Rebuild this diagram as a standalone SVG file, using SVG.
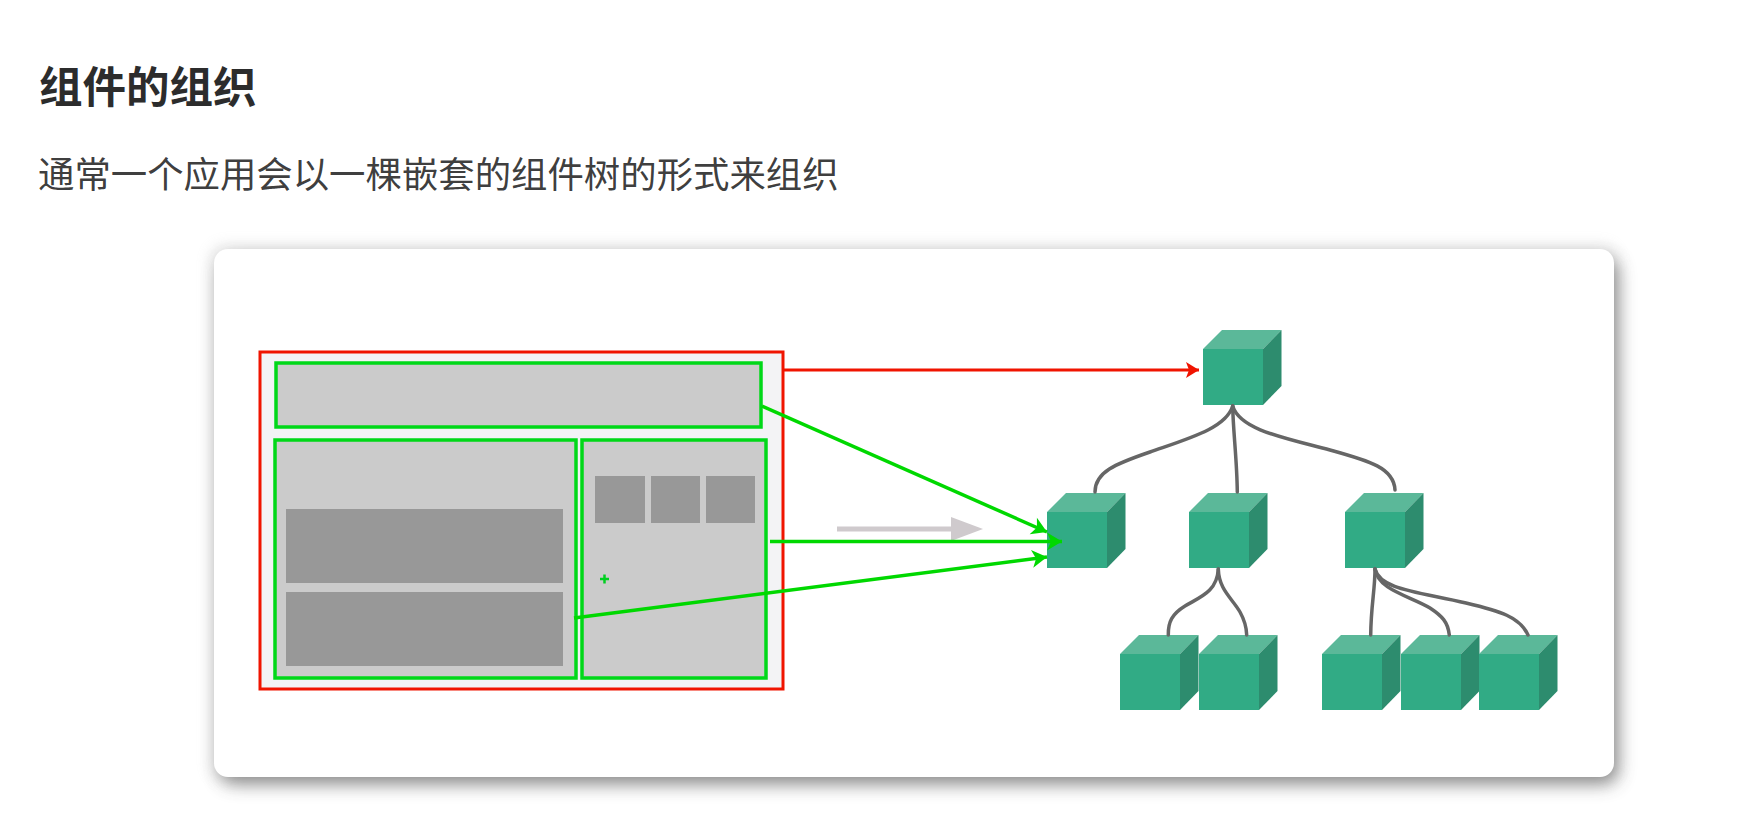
<svg xmlns="http://www.w3.org/2000/svg" width="1755" height="829" viewBox="0 0 1755 829">
<style>
.t{font-family:"Noto Sans CJK SC","Liberation Sans",sans-serif;fill:#2c2c2c}
.g{fill:#cbcbcb;stroke:#00d818;stroke-width:3.500}
.d{fill:#989898}
.f{fill:#31ab85}.u{fill:#5bb899}.s{fill:#2d8c6e}
.c{fill:none;stroke:#666;stroke-width:3.500;stroke-linecap:round}
.a{fill:none;stroke:#00d800;stroke-width:3.500}
</style>
<defs>
<filter id="sh" x="-5%" y="-8%" width="110%" height="116%"><feGaussianBlur stdDeviation="9"/></filter>
<filter id="sh2" x="-5%" y="-8%" width="110%" height="116%"><feGaussianBlur stdDeviation="7"/></filter>
<marker id="ag" markerUnits="userSpaceOnUse" markerWidth="20" markerHeight="20" refX="17" refY="10" orient="auto"><path d="M2 1L17 10L2 19L6 10Z" fill="#00d800"/></marker>
<marker id="ar" markerUnits="userSpaceOnUse" markerWidth="20" markerHeight="20" refX="16" refY="10" orient="auto"><path d="M3 2L16 10L3 18L6 10Z" fill="#f01400"/></marker>
<g id="cube"><path class="f" d="M0 0H60V56H0Z"/><path class="u" d="M0 0L19 -19H78.500L60 0Z"/><path class="s" d="M60 0L78.500 -19V37L60 56Z"/></g>
</defs>
<rect width="1755" height="829" fill="#fff"/>
<text class="t" x="39" y="102.500" font-size="43.500" font-weight="700">组件的组织</text>
<text class="t" x="38" y="188" font-size="36.400" fill-opacity=".92">通常一个应用会以一棵嵌套的组件树的形式来组织</text>
<rect x="209" y="244" width="1409" height="537" rx="16" fill="#999" opacity=".18" filter="url(#sh2)"/>
<rect x="220" y="258" width="1398" height="526" rx="14" fill="#444" opacity=".6" filter="url(#sh)"/>
<rect id="card" x="214" y="249" width="1400" height="528" rx="14" fill="#fff"/>
<g id="page">
<rect x="260" y="352" width="523" height="337" fill="#f3f3f5" stroke="#f01400" stroke-width="3"/>
</g>
<g id="header"><rect class="g" x="276" y="363" width="485" height="64"/></g>
<g id="main"><rect class="g" x="275" y="440" width="301" height="238"/>
<rect class="d" x="286" y="509" width="277" height="74"/><rect class="d" x="286" y="592" width="277" height="74"/></g>
<g id="aside"><rect class="g" x="582" y="440" width="184" height="238"/>
<rect class="d" x="595" y="476" width="50" height="47"/><rect class="d" x="651" y="476" width="49" height="47"/><rect class="d" x="706" y="476" width="49" height="47"/></g>
<g id="plus"><path d="M600 579H609M604.500 574.500V583.500" stroke="#00d020" stroke-width="2.500" fill="none"/></g>
<g id="transition"><path d="M837 529H955" stroke="#cfcacd" stroke-width="5"/><path d="M951 517L983 529L951 541Z" fill="#cfcacd"/></g>
<g id="tree-root"><use href="#cube" x="1203" y="349"/></g>
<g id="tree-a"><use href="#cube" x="1047" y="512"/></g>
<g id="tree-b"><use href="#cube" x="1189" y="512"/></g>
<g id="tree-c"><use href="#cube" x="1345" y="512"/></g>
<g id="tree-a1"><use href="#cube" x="1120" y="654"/></g>
<g id="tree-a2"><use href="#cube" x="1199" y="654"/></g>
<g id="tree-c1"><use href="#cube" x="1322" y="654"/></g>
<g id="tree-c2"><use href="#cube" x="1401" y="654"/></g>
<g id="tree-c3"><use href="#cube" x="1479" y="654"/></g>
<g id="connectors">
<path class="c" d="M1232.700 406C1226 428 1190 438 1150 452C1115 464 1095 472 1095 492"/>
<path class="c" d="M1232.700 406C1233 430 1237 460 1237.300 492"/>
<path class="c" d="M1232.700 406C1240 430 1285 438 1330 450C1370 461 1394 468 1395 490"/>
<path class="c" d="M1218.300 569C1217 592 1200 597 1185 606C1172 614 1168 622 1168.300 635"/>
<path class="c" d="M1218.300 569C1219 590 1232 598 1240 612C1245 621 1246.500 627 1246.700 635"/>
<path class="c" d="M1375 569C1375 590 1371 605 1370.700 635"/>
<path class="c" d="M1375 569C1378 590 1410 596 1430 608C1442 616 1448 622 1449.300 635"/>
<path class="c" d="M1375 569C1380 590 1420 592 1466 603C1500 611 1520 617 1528 635"/>
<path d="M784 370H1199" fill="none" stroke="#f01400" stroke-width="3" marker-end="url(#ar)"/>
<path class="a" d="M762 406L1047 532" marker-end="url(#ag)"/>
<path class="a" d="M770 541.500H1062" marker-end="url(#ag)"/>
<path class="a" d="M574 618L1047 557" marker-end="url(#ag)"/>
</g>
</svg>
